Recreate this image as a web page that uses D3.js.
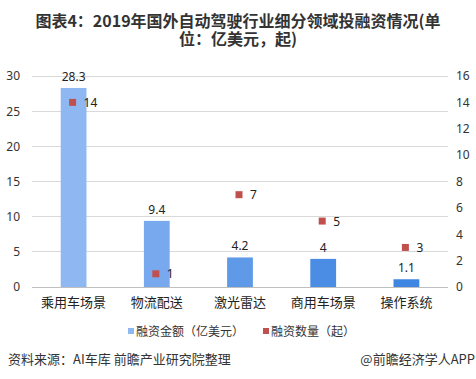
<!DOCTYPE html>
<html>
<head>
<meta charset="utf-8">
<script src="https://cdn.jsdelivr.net/npm/d3@7"></script>
<style>
  body { margin: 0; background: #fff; }
  svg { font-family: "Noto Sans CJK SC", "Noto Sans", sans-serif; }
</style>
</head>
<body>
<svg width="476" height="379"></svg>
<script>
var categories = ["乘用车场景", "物流配送", "激光雷达", "商用车场景", "操作系统"];
var amounts = [28.3, 9.4, 4.2, 4, 1.1];     // 融资金额（亿美元）
var counts = [14, 1, 7, 5, 3];              // 融资数量（起）
var leftTicks = [0, 5, 10, 15, 20, 25, 30];
var rightTicks = [0, 2, 4, 6, 8, 10, 12, 14, 16];
var barColors = ["#8fb8f3", "#78a9ee", "#5f9ae8", "#4b8ce4", "#3f86e3"];

var width = 476, height = 379;
var plotLeft = 32, plotRight = 448, plotTop = 76, plotBottom = 287;

var svg = d3.select("svg");

var x = d3.scaleBand().domain(categories).range([plotLeft, plotRight]).paddingInner(0.69).paddingOuter(0.345);
var yL = d3.scaleLinear().domain([0, 30]).range([plotBottom, plotTop]);
var yR = d3.scaleLinear().domain([0, 16]).range([plotBottom, plotTop]);

// title, two lines
var titleLines = ["图表4：2019年国外自动驾驶行业细分领域投融资情况(单", "位：亿美元，起)"];
svg.append("g")
  .selectAll("text")
  .data(titleLines)
  .enter().append("text")
    .attr("x", 238)
    .attr("y", (d, i) => 27 + i * 18)
    .attr("text-anchor", "middle")
    .style("font-size", "16px")
    .style("font-weight", "bold")
    .attr("fill", "#333")
    .text(d => d);

// gridlines
svg.append("g")
  .selectAll("line")
  .data(leftTicks)
  .enter().append("line")
    .attr("x1", plotLeft).attr("x2", plotRight)
    .attr("y1", d => yL(d)).attr("y2", d => yL(d))
    .attr("stroke", d => d === 0 ? "#bfbfbf" : "#d9d9d9")
    .attr("stroke-width", 1)
    .attr("shape-rendering", "crispEdges");

// axes
var axisL = d3.axisLeft(yL).tickValues(leftTicks).tickSize(0).tickPadding(12);
var axisR = d3.axisRight(yR).tickValues(rightTicks).tickSize(0).tickPadding(8);
var gl = svg.append("g").attr("transform", `translate(${plotLeft},0)`).call(axisL);
var gr = svg.append("g").attr("transform", `translate(${plotRight},0)`).call(axisR);
[gl, gr].forEach(g => {
  g.select(".domain").remove();
  g.selectAll("text").attr("fill", "#333").style("font-size", "12px")
    .style("font-family", "\"Noto Sans\", sans-serif");
});

var xAxis = d3.axisBottom(x).tickSize(0).tickPadding(11);
var gx = svg.append("g").attr("transform", `translate(0,${plotBottom})`).call(xAxis);
gx.select(".domain").remove();
gx.selectAll("text").attr("fill", "#222").style("font-size", "13px")
  .style("font-family", "\"Noto Sans CJK SC\", sans-serif");

// bars
svg.append("g")
  .selectAll("rect")
  .data(amounts)
  .enter().append("rect")
    .attr("x", (d, i) => x(categories[i]))
    .attr("y", d => yL(d))
    .attr("width", x.bandwidth())
    .attr("height", d => plotBottom - yL(d))
    .attr("fill", (d, i) => barColors[i]);

svg.append("g")
  .selectAll("text")
  .data(amounts)
  .enter().append("text")
    .attr("x", (d, i) => x(categories[i]) + x.bandwidth() / 2)
    .attr("y", d => yL(d) - 7)
    .attr("text-anchor", "middle")
    .attr("fill", "#222")
    .style("font-size", "12px")
    .style("font-family", "\"Noto Sans\", sans-serif")
    .text(d => d);

// count markers
var cx = i => x(categories[i]) + x.bandwidth() / 2 - 1;
svg.append("g")
  .selectAll("rect")
  .data(counts)
  .enter().append("rect")
    .attr("x", (d, i) => cx(i) - 3.5)
    .attr("y", d => yR(d) - 3.5)
    .attr("width", 7).attr("height", 7)
    .attr("fill", "#c0504d");

svg.append("g")
  .selectAll("text")
  .data(counts)
  .enter().append("text")
    .attr("x", (d, i) => cx(i) + 11)
    .attr("y", d => yR(d) + 4.5)
    .attr("fill", "#222")
    .style("font-size", "12px")
    .style("font-family", "\"Noto Sans\", sans-serif")
    .text(d => d);

// legend
var legend = [
  { label: "融资金额（亿美元）", color: "#8fb8f3", x: 128 },
  { label: "融资数量（起）", color: "#c0504d", x: 263 }
];
var lg = svg.append("g").selectAll("g").data(legend).enter().append("g")
  .attr("transform", d => `translate(${d.x},331)`);
lg.append("rect").attr("x", 0).attr("y", -3).attr("width", 6).attr("height", 6).attr("fill", d => d.color);
lg.append("text").attr("x", 8).attr("y", 5).attr("fill", "#333")
  .style("font-size", "12px").text(d => d.label);

// footer
svg.append("text")
  .attr("x", 8).attr("y", 364)
  .attr("fill", "#333")
  .style("font-size", "13px")
  .text("资料来源：AI车库 前瞻产业研究院整理");
svg.append("text")
  .attr("x", 475).attr("y", 364)
  .attr("text-anchor", "end")
  .attr("fill", "#333")
  .style("font-size", "13px")
  .text("@前瞻经济学人APP");
</script>
</body>
</html>
